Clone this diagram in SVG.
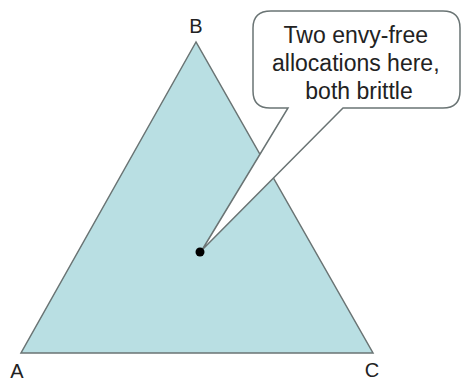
<svg xmlns="http://www.w3.org/2000/svg" width="464" height="381" viewBox="0 0 464 381">
<style>
.lbl{font-family:"Liberation Sans",Arial,sans-serif;fill:#222;text-anchor:middle}
</style>
<rect width="464" height="381" fill="#fff"/>
<g id="triangle">
<polygon points="196,42 21,353 373,353" fill="#b9dfe3" stroke="#6a7474" stroke-width="1.5"/>
</g>
<g id="labels">
<text class="lbl" x="196" y="33" font-size="20">B</text>
<text class="lbl" x="17" y="378" font-size="20">A</text>
<text class="lbl" x="372" y="377" font-size="20">C</text>
</g>
<g id="callout">
<path d="M271,11 H443 Q460,11 460,28 V91 Q460,108 443,108 H343 L202,250 L288,108 H270 Q253,108 253,91 V28 Q253,11 271,11 Z" fill="#fff" stroke="#6a7474" stroke-width="1.5"/>
<text class="lbl" font-size="23">
<tspan x="359" y="43">Two envy-free</tspan>
<tspan x="359" y="71">allocations here,</tspan>
<tspan x="359" y="99">both brittle</tspan>
</text>
</g>
<g id="point">
<circle cx="200" cy="252" r="4.5" fill="#000"/>
</g>
</svg>
